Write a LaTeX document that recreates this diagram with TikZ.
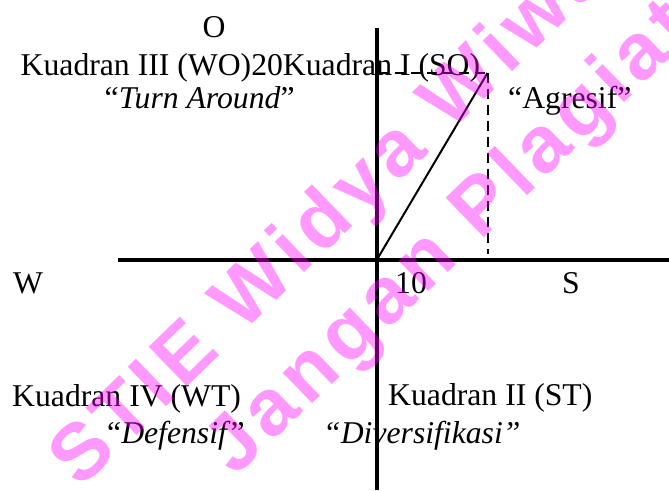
\documentclass[tikz,border=0pt]{standalone}
\usepackage{fontspec}
\setmainfont{Liberation Serif}
\newfontfamily\wmfont[LetterSpace=8]{Liberation Sans}
\definecolor{wmpink}{RGB}{255,0,255}
\begin{document}
\begin{tikzpicture}[x=1pt,y=-1pt,
  lbl/.style={inner sep=0pt,anchor=base west,font=\fontsize{31.7}{38}\selectfont},
  axis/.style={line width=4pt},
  vec/.style={line width=2pt},
  guide/.style={line width=2pt,dash pattern=on 10pt off 6pt},
  wm/.style={inner sep=0pt,anchor=base west,rotate=44,text=wmpink,text opacity=0.4,font=\wmfont\bfseries\fontsize{80}{90}\selectfont}]
\useasboundingbox (0,0) rectangle (669,490);
% axes
\coordinate (top) at (377,28);
\coordinate (bot) at (377,490);
\coordinate (lft) at (118,259.5);
\coordinate (rgt) at (669,259.5);
\coordinate (org) at (377,259.5);
\coordinate (pt) at (487.5,73);
\coordinate (ya) at (379,73);
\coordinate (ft) at (487.5,254);
\draw[axis] (top) -- (bot);
\draw[axis] (lft) -- (rgt);
\draw[vec] (org) -- (pt);
\draw[guide] (ya) -- (pt);
\draw[guide] (pt) -- (ft);
% labels
\node[lbl,anchor=base] (o) at (214,37) {O};
\node[lbl] (k13) at (20.5,75) {Kuadran III (WO)20Kuadran I (SO)};
\node[lbl] (turn) at (104.5,108) {“\textit{Turn Around}”};
\node[lbl] (agr) at (508,108) {“Agresif”};
\node[lbl] (w) at (13,293) {W};
\node[lbl] (ten) at (395,293) {10};
\node[lbl] (s) at (562,293) {S};
\node[lbl] (k4) at (12,406) {Kuadran IV (WT)};
\node[lbl] (def) at (107,443) {“\textit{Defensif}”};
\node[lbl] (k2) at (388,405) {Kuadran II (ST)};
\node[lbl] (div) at (323,443) {\textit{“Diversifikasi”}};
% watermark
\node[wm] (wm1) at (80,490) {STIE Widya Wiwaha};
\node[wm] (wm2) at (235,478) {Jangan Plagiat};
\end{tikzpicture}
\end{document}
